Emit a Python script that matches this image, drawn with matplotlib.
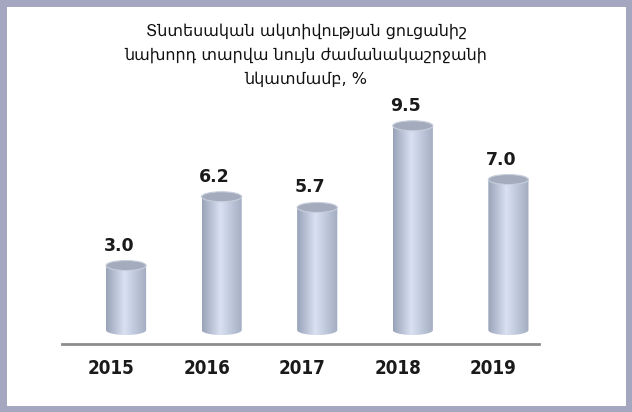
import numpy as np
import matplotlib
matplotlib.use('Agg')
import matplotlib.pyplot as plt
from matplotlib.patches import Ellipse, Rectangle, Polygon

# Data
years = ['2015', '2016', '2017', '2018', '2019']
values = [3.0, 6.2, 5.7, 9.5, 7.0]
value_labels = ['3.0', '6.2', '5.7', '9.5', '7.0']
title = ('Տնտեսական ակտիվության ցուցանիշ\n'
         'նախորդ տարվա նույն ժամանակաշրջանի\n'
         'նկատմամբ, %')

W, H = 632, 412
fig = plt.figure(figsize=(W / 100, H / 100), dpi=100)
fig.patch.set_facecolor('#a5a6c0')

# white inner panel
fig.patches.append(Rectangle((7 / W, 6 / H), (626 - 7) / W, (406 - 7) / H,
                             transform=fig.transFigure, facecolor='white',
                             edgecolor='none', zorder=-1))

# axes placed in pixel positions: baseline at y=344, line from x=62 to 539
left, right, bottom, top = 62, 539, 344, 40
ax = fig.add_axes([left / W, 1 - bottom / H, (right - left) / W, (bottom - top) / H])
ax.set_zorder(2)
ax.set_facecolor('none')
px_per_unit = 21.5
for s in ['top', 'right', 'left']:
    ax.spines[s].set_visible(False)
ax.spines['bottom'].set_color('#8c8c8c')
ax.spines['bottom'].set_linewidth(2)
ax.set_xticks([])
ax.set_yticks([])

x = np.arange(len(years))
bw = 0.42
eh = 10 / px_per_unit  # ellipse height in data units

# horizontal shading for the cylinder body
grad = np.linspace(0, 1, 200)
c_dark = np.array([0.60, 0.64, 0.72])
c_light = np.array([0.85, 0.88, 0.95])
prof = np.where(grad < 0.45, grad / 0.45, 1 - (grad - 0.45) / 0.55 * 0.85)
img = c_dark[None, :] + (c_light - c_dark)[None, :] * prof[:, None]
img = np.tile(img[None, :, :], (2, 1, 1))

bars = ax.bar(x, values, width=bw, color='none', edgecolor='none')
for xi, v, b in zip(x, values, bars):
    # body: rectangle plus bottom half-ellipse, filled with gradient
    t = np.linspace(np.pi, 2 * np.pi, 40)
    bot_arc = np.column_stack([xi + bw / 2 * np.cos(t), eh / 2 * np.sin(t)])
    body = np.vstack([[[xi - bw / 2, v]], bot_arc, [[xi + bw / 2, v]]])
    clip = Polygon(body, closed=True, transform=ax.transData, facecolor='none', edgecolor='none')
    ax.add_patch(clip)
    im = ax.imshow(img, extent=(xi - bw / 2, xi + bw / 2, -eh, v), aspect='auto',
                   interpolation='bilinear', zorder=2)
    im.set_clip_path(clip)
    # top cap
    ax.add_patch(Ellipse((xi, v), bw, eh, facecolor='#a3abbd', edgecolor='#c8cfdc',
                         linewidth=0.8, zorder=3))

ax.set_aspect('auto')
ax.set_xlim(-0.67, 4.32)
ax.set_ylim(-0.65, -0.65 + (bottom - top) / px_per_unit)

for xi, v, lab in zip(x, values, value_labels):
    ax.annotate(lab, (xi, v), xytext=(-7, 20), textcoords='offset pixels',
                ha='center', va='center', fontsize=12.5, fontweight='bold',
                color='#1a1a1a', family=['DejaVu Sans'])

for xi, yr in zip(x, years):
    ax.annotate(yr, (xi, 0), xycoords=('data', 'axes fraction'),
                xytext=(-15, -24), textcoords='offset pixels',
                ha='center', va='center', fontsize=13.5, fontweight='bold',
                fontstretch='condensed', color='#1a1a1a',
                family=['DejaVu Sans'], annotation_clip=False)

fig.text(306 / W, 1 - 55 / H, title, ha='center', va='center', fontsize=11.5,
         linespacing=1.65, color='#111111', family=['DejaVu Sans'])

fig.savefig('out.png', dpi=100, facecolor=fig.get_facecolor())
